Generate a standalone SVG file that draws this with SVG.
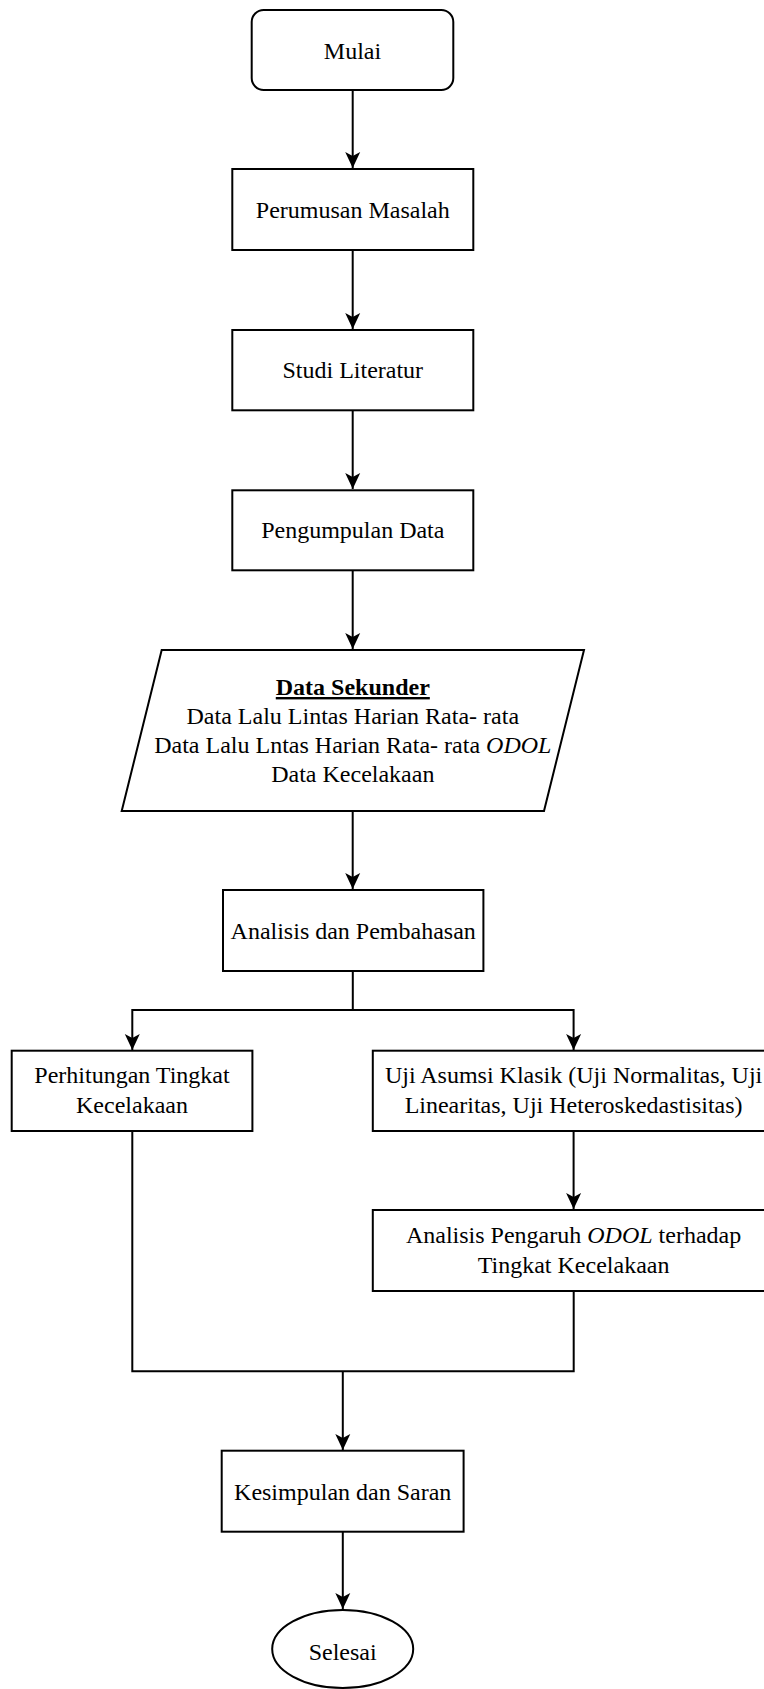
<svg xmlns="http://www.w3.org/2000/svg" width="764" height="1689" viewBox="0 0 764 1689">
<style>
.n{fill:#ffffff;stroke:#000000;stroke-width:2}
.c{fill:none;stroke:#000000;stroke-width:2}
.t{font-family:"Liberation Serif","Times New Roman",serif;font-size:24px;fill:#000000;text-anchor:middle}
</style>
<defs>
<marker id="ah" markerUnits="userSpaceOnUse" viewBox="0 0 16 16" refX="16" refY="8" markerWidth="16" markerHeight="16" orient="auto">
<path d="M0,0.5 L16,8 L0,15.5 L4,8 Z" fill="#000000"/>
</marker>
</defs>
<rect width="764" height="1689" fill="#ffffff"/>
<g id="connectors">
<path class="c" d="M352.7,90 V168" marker-end="url(#ah)"/>
<path class="c" d="M352.7,250 V329" marker-end="url(#ah)"/>
<path class="c" d="M352.7,410 V489" marker-end="url(#ah)"/>
<path class="c" d="M352.7,570 V649" marker-end="url(#ah)"/>
<path class="c" d="M352.7,811 V889" marker-end="url(#ah)"/>
<path class="c" d="M352.8,971 V1010 H132.3 V1050" marker-end="url(#ah)"/>
<path class="c" d="M352.8,1010 H573.6 V1050" marker-end="url(#ah)"/>
<path class="c" d="M573.6,1131 V1209" marker-end="url(#ah)"/>
<path class="c" d="M132.3,1131 V1371.3 H573.7 V1291"/>
<path class="c" d="M342.8,1371.3 V1450" marker-end="url(#ah)"/>
<path class="c" d="M342.8,1531.7 V1609" marker-end="url(#ah)"/>
</g>
<g id="mulai">
<rect class="n" x="251.7" y="10" width="201.6" height="80" rx="12" ry="12"/>
<text class="t" x="352.5" y="59">Mulai</text>
</g>
<g id="perumusan">
<rect class="n" x="232.3" y="169" width="241" height="81"/>
<text class="t" x="352.8" y="218">Perumusan Masalah</text>
</g>
<g id="studi">
<rect class="n" x="232.3" y="330" width="241" height="80.3"/>
<text class="t" x="352.8" y="378.3">Studi Literatur</text>
</g>
<g id="pengumpulan">
<rect class="n" x="232.3" y="490.3" width="241" height="80"/>
<text class="t" x="352.8" y="538.3">Pengumpulan Data</text>
</g>
<g id="data-sekunder">
<polygon class="n" points="161.7,650 584,650 544,811 121.7,811"/>
<text class="t" x="352.8" y="695" font-weight="bold" text-decoration="underline">Data Sekunder</text>
<text class="t" x="352.8" y="724">Data Lalu Lintas Harian Rata- rata</text>
<text class="t" x="352.8" y="753">Data Lalu Lntas Harian Rata- rata <tspan font-style="italic">ODOL</tspan></text>
<text class="t" x="352.8" y="782">Data Kecelakaan</text>
</g>
<g id="analisis">
<rect class="n" x="223" y="890" width="260.4" height="81"/>
<text class="t" x="353.2" y="939">Analisis dan Pembahasan</text>
</g>
<g id="perhitungan">
<rect class="n" x="11.7" y="1050.7" width="240.7" height="80.3"/>
<text class="t" x="132" y="1083.3">Perhitungan Tingkat</text>
<text class="t" x="132" y="1112.7">Kecelakaan</text>
</g>
<g id="uji-asumsi">
<rect class="n" x="372.8" y="1050.7" width="401.6" height="80.3"/>
<text class="t" x="573.6" y="1083.3">Uji Asumsi Klasik (Uji Normalitas, Uji</text>
<text class="t" x="573.6" y="1112.7">Linearitas, Uji Heteroskedastisitas)</text>
</g>
<g id="analisis-pengaruh">
<rect class="n" x="372.8" y="1210" width="401.6" height="81"/>
<text class="t" x="573.6" y="1243.3">Analisis Pengaruh <tspan font-style="italic">ODOL</tspan> terhadap</text>
<text class="t" x="573.6" y="1272.7">Tingkat Kecelakaan</text>
</g>
<g id="kesimpulan">
<rect class="n" x="221.7" y="1450.7" width="241.9" height="81"/>
<text class="t" x="342.7" y="1500">Kesimpulan dan Saran</text>
</g>
<g id="selesai">
<ellipse class="n" cx="342.7" cy="1649" rx="70.5" ry="39"/>
<text class="t" x="342.7" y="1660">Selesai</text>
</g>
</svg>
